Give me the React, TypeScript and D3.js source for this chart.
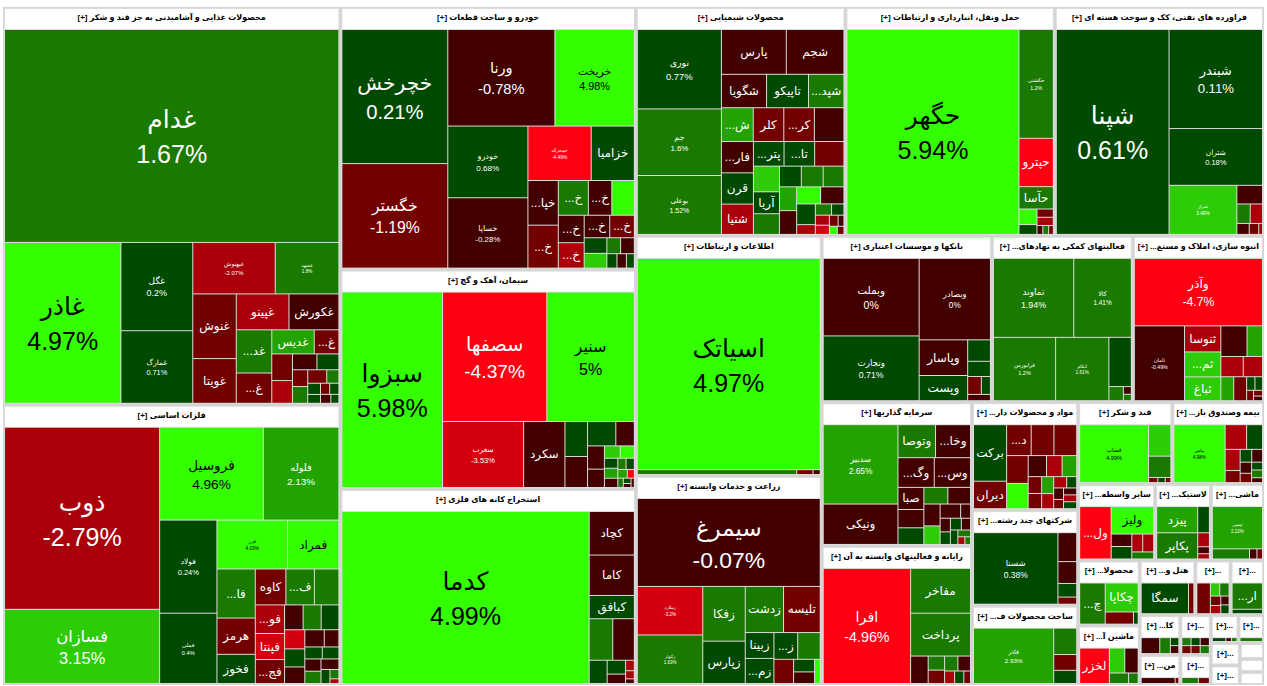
import React from "react";
import * as d3 from "d3";

// [ticker, market value weight, change %]
type Stock = [string, number, number];

const foodStocks: Stock[] = [
  ["غدام", 69.6, 1.67], ["غاذر", 18.3, 4.97], ["غگل", 6.2, 0.2], ["غمارگ", 5.1, 0.71],
  ["غبهنوش", 4.15, -2.07], ["غشهد", 3.2, 1.8], ["غنوش", 2.75, -1.4], ["غویتا", 1.9, -1.2],
  ["غپینو", 1.85, -2.3], ["غکورش", 1.75, -0.5], ["غدشت", 1.5, 1.3], ["غسالم", 1.05, -1.5],
  ["غدیس", 1.0, 2.4], ["غگرجی", 0.58, -1.1], ["غمینو", 0.54, -1.6], ["غچین", 0.46, -2.6],
  ["غبشهر", 0.38, -0.4], ["غشان", 0.34, 0.5], ["غزر", 0.25, -1.3], ["غفارس", 0.25, 1.2],
  ["غپاک", 0.25, -1.8], ["غصینو", 0.16, 1.4], ["غنیلی", 0.14, 0.3], ["غالبر", 0.11, 0.6],
  ["غشصفا", 0.1, -1.2], ["غگلپا", 0.1, 0.2], ["غبهار", 0.09, -0.7], ["غمهرا", 0.07, 0.4],
];

const metalStocks: Stock[] = [
  ["ذوب", 27, -2.79], ["فسازان", 11, 3.15], ["فروسیل", 9.2, 4.96], ["فلوله", 6.7, 2.13],
  ["فولاد", 5.1, 0.24], ["فملی", 3.85, 0.4], ["فزر", 3.3, 4.03], ["فمراد", 2.4, 4.5],
  ["فاسمین", 1.8, 1.5], ["هرمز", 1.33, -1.6], ["فخوز", 1.07, 0.3], ["کاوه", 1.05, -1.3],
  ["فنوال", 0.98, 1.2], ["فباهنر", 0.84, 1.1], ["فولای", 0.8, -2.4], ["فپنتا", 0.73, -3.6],
  ["فجهان", 0.67, -1.1], ["فگستر", 0.44, -0.6], ["فخاس", 0.43, 1.3], ["فسرب", 0.42, 0.5],
  ["فالوم", 0.37, -3.4], ["فسپا", 0.35, 0.2], ["فجر", 0.32, -0.5], ["فروی", 0.32, -0.8],
  ["فتوسا", 0.24, -0.3], ["فافزا", 0.2, 0.6], ["فکمند", 0.19, 0.4], ["فنورد", 0.19, -0.9],
  ["فوکا", 0.19, 1.5], ["فاراک", 0.18, -0.2], ["فسدید", 0.12, 0.7], ["فرآور", 0.08, 1.1],
  ["فغدیر", 0.04, -2.2],
];

const autoStocks: Stock[] = [
  ["خچرخش", 13.6, 0.21], ["خگستر", 10.6, -1.19], ["ورنا", 9.9, -0.78], ["خریخت", 7.35, 4.98],
  ["خودرو", 5.5, 0.68], ["خساپا", 5.4, -0.28], ["خمحرکه", 3.3, -4.49], ["خزامیا", 2.25, 0.5],
  ["خپارس", 1.3, -0.6], ["خنصیر", 1.25, -1.3], ["خمحور", 1.0, 1.4], ["خکاوه", 0.78, -0.5],
  ["خلنت", 0.75, 4.9], ["خکمک", 0.68, -0.4], ["خبهمن", 0.63, -2.5], ["خفنر", 0.55, -0.3],
  ["خشرق", 0.53, -1.5], ["خاور", 0.34, 0.6], ["خرینگ", 0.32, 3.4], ["خمهر", 0.21, 1.2],
  ["خدیزل", 0.21, -0.7], ["خکار", 0.14, 0.3], ["خاذین", 0.13, -0.2], ["ختور", 0.11, 0.5],
];

const cementStocks: Stock[] = [
  ["سبزوا", 19.1, 5.98], ["سصفها", 13.1, -4.37], ["سنیر", 11, 5], ["سغرب", 5.2, -3.53],
  ["سکرد", 2.65, -0.5], ["سخزر", 0.77, 0.6], ["سشرق", 0.68, -0.3], ["سمازن", 0.67, 0.4],
  ["سهگمت", 0.44, -0.7], ["سفار", 0.38, -0.2], ["سخاش", 0.3, -0.6], ["ساروم", 0.19, 3.2],
  ["سفانو", 0.17, 4.6], ["سدور", 0.13, 0.5], ["سبجنو", 0.13, 2.4], ["سکرما", 0.12, -0.4],
  ["سیدکو", 0.09, 1.3], ["سهرمز", 0.09, 0.2], ["ساربیل", 0.08, 2.2], ["سخوز", 0.06, -4.1],
  ["سدشت", 0.05, 1.1], ["سصوفی", 0.04, 0.3], ["سقاین", 0.03, -0.5], ["سیلام", 0.03, -0.9],
];

const miningStocks: Stock[] = [
  ["کدما", 41.7, 4.99], ["کچاد", 1.93, -0.5], ["کاما", 1.79, -0.6], ["کبافق", 1.03, 0.3],
  ["کگل", 0.96, 1.2], ["کگهر", 0.88, -0.4], ["کمنگنز", 0.41, 0.2], ["کروی", 0.25, 0.5],
  ["کنور", 0.17, -0.3], ["کمرجان", 0.09, -2.3], ["کزغال", 0.07, -2.1], ["کپرور", 0.04, -0.5],
];

const chemStocks: Stock[] = [
  ["نوری", 6.2, 0.77], ["جم", 5.2, 1.6], ["بوعلی", 4.6, 1.52], ["پارس", 2.7, -0.3],
  ["شجم", 2.4, -0.5], ["شگویا", 1.4, -0.6], ["تاپیکو", 1.3, 0.4], ["شپدیس", 1.1, 1.2],
  ["شیران", 1.0, 2.8], ["کلر", 0.96, -1.2], ["کرماشا", 0.96, -1.4], ["شخارک", 0.93, -0.7],
  ["فارس", 0.93, -0.4], ["قرن", 0.93, 0.6], ["شتیا", 0.9, -2.3], ["پترول", 0.7, 0.5],
  ["تاپکیش", 0.7, 0.3], ["شسپا", 0.67, -1.3], ["شخزر", 0.62, 3.5], ["آریا", 0.53, 0.4],
  ["شفن", 0.5, 1.1], ["شاراک", 0.42, 0.6], ["شکربن", 0.42, 1.3], ["شفارس", 0.4, 1.2],
  ["شاملا", 0.38, 2.5], ["شصدف", 0.38, -0.4], ["شبریز", 0.38, 4.2], ["شلعاب", 0.37, -0.7],
  ["شنفت", 0.36, 0.3], ["شپاکسا", 0.17, -2.4], ["شپلی", 0.17, 1.4], ["شسینا", 0.13, 0.2],
  ["شدوص", 0.13, -2.6], ["شیراز", 0.12, -3.2], ["شرانل", 0.09, -1.3], ["شوینده", 0.06, -0.3],
  ["شزنگ", 0.06, 4.4], ["شبصیر", 0.05, -1.6],
];

const transportStocks: Stock[] = [
  ["حگهر", 33.9, 5.94], ["حکشتی", 3.6, 1.2], ["حپترو", 1.6, -4.5], ["حآسا", 0.74, 1.1],
  ["حسینا", 0.27, 4.3], ["حتوکا", 0.17, 0.4], ["حفارس", 0.13, -1.4], ["حریل", 0.13, -2.3],
  ["حسیر", 0.05, -0.6], ["حفاری", 0.05, 1.2], ["حبندر", 0.04, -1.1],
];

const oilStocks: Stock[] = [
  ["شپنا", 22.2, 0.61], ["شبندر", 8.9, 0.11], ["شتران", 5.1, 0.18], ["شراز", 3.2, 3.49],
  ["شاوان", 0.46, -0.6], ["شبهرن", 0.25, 1.3], ["شدامین", 0.23, -2.4], ["شپاس", 0.13, -0.5],
  ["شایران", 0.1, -1.4], ["شتوکا", 0.04, -2.2],
];

const itStocks: Stock[] = [
  ["اسیاتک", 39.1, 4.97], ["اخابر", 0.78, 1.2], ["اعتلا", 0.08, -1.3], ["اپرداز", 0.035, -0.4],
];

const agriStocks: Stock[] = [
  ["سیمرغ", 15.2, -0.07], ["زملارد", 3.0, -3.2], ["زکوثر", 3.0, 1.63], ["زفکا", 2.2, 1.3],
  ["زپارس", 1.7, 0.5], ["زدشت", 1.67, 1.4], ["تلیسه", 1.6, -1.3], ["زبینا", 0.7, 0.4],
  ["زمگسا", 0.68, 0.3], ["زکشت", 0.6, 0.6], ["زگلدشت", 0.57, 1.1], ["زشگزا", 0.45, -1.2],
  ["زقیام", 0.25, 0.2], ["زشریف", 0.23, -0.6], ["زماهان", 0.13, 4.1],
];

const bankStocks: Stock[] = [
  ["وبملت", 7.3, 0], ["وتجارت", 6.1, 0.71], ["وبصادر", 5.7, 0], ["وپاسار", 1.7, -0.5],
  ["وپست", 1.2, 0.4], ["وسینا", 0.48, 0.3], ["وخاور", 0.34, 0.5], ["وکار", 0.24, -1.2],
  ["وپارس", 0.16, 0.2], ["ونوین", 0.14, -0.3],
];

const finAuxStocks: Stock[] = [
  ["تماوند", 6.2, 1.94], ["کالا", 4.45, 1.41], ["فرابورس", 3.85, 1.2], ["اتکام", 3.3, 1.61],
  ["سپرده", 1.08, 0.6], ["آتیه", 0.2, 1.3], ["کارا", 0.06, -0.4], ["ثبات", 0.05, 1.1],
];

const estateStocks: Stock[] = [
  ["وآذر", 8.4, -4.7], ["ثامان", 3.65, -0.49], ["ثنوسا", 0.92, -2.4], ["ثمسکن", 0.88, 3.3],
  ["ثباغ", 0.84, 3.5], ["ثشاهد", 0.78, -0.6], ["ثاخت", 0.46, 2.4], ["ثپردیس", 0.44, -2.3],
  ["ثعمرا", 0.38, -2.1], ["ثفارس", 0.3, 2.2], ["ثشرق", 0.3, -1.3], ["ثاصفا", 0.11, 0.4],
  ["ثتران", 0.1, 0.2], ["ثالوند", 0.07, -1.4], ["ثنور", 0.05, -1.1], ["ثرود", 0.04, -0.5],
];

const investStocks: Stock[] = [
  ["سدبیر", 5.5, 2.65], ["ونیکی", 2.8, -0.36], ["وتوصا", 1.15, 1.2], ["وخارزم", 1.07, -0.5],
  ["وگستر", 1.0, -0.4], ["وسکاب", 1.0, -0.3], ["صبا", 0.53, -0.6], ["واتی", 0.44, -0.7],
  ["وبوعلی", 0.4, 0.3], ["ومعادن", 0.37, 1.3], ["وسپه", 0.35, -0.2], ["وصنا", 0.33, -0.5],
  ["وبانک", 0.28, 3.1], ["وکغدیر", 0.27, -0.4], ["وسبحان", 0.13, -0.8], ["وتوکا", 0.13, -0.2],
  ["وغدیر", 0.12, 0.4], ["وامید", 0.12, 0.6], ["وساپا", 0.1, -0.9], ["وپخش", 0.1, 0.3],
  ["ونفت", 0.08, 1.1], ["وسمان", 0.05, -2.5], ["وملت", 0.04, 1.2],
];

const computerStocks: Stock[] = [
  ["افرا", 9.6, -4.96], ["مفاخر", 2.56, 1.3], ["پرداخت", 2.45, 1.2], ["رتاپ", 0.46, -0.4],
  ["سپ", 0.22, 1.1], ["رانفور", 0.21, -1.2], ["مداران", 0.19, 1.4], ["ماهان", 0.18, -0.6],
  ["سیستم", 0.12, -2.3], ["تاپ", 0.11, 0.3], ["فن افزار", 0.08, -1.1],
];

const drugStocks: Stock[] = [
  ["برکت", 1.65, 0.4], ["دیران", 0.8, -1.3], ["دفارا", 0.67, -1.2], ["دسبحا", 0.62, -1.4],
  ["دجابر", 0.62, -1.1], ["دکیمی", 0.53, -1.5], ["ددانا", 0.48, 4.6], ["دالبر", 0.34, -0.4],
  ["دتماد", 0.29, -2.2], ["دزهراوی", 0.27, 2.4], ["دلر", 0.2, -1.3], ["دکوثر", 0.18, -1.1],
  ["دسینا", 0.18, 2.3], ["دشیمی", 0.16, -2.4], ["داسوه", 0.13, -2.2], ["دتولید", 0.1, 0.5],
  ["دعبید", 0.1, -0.4], ["دپارس", 0.08, -1.2], ["دابور", 0.08, -0.6], ["دکپسول", 0.08, -2.1],
  ["دفرا", 0.08, 0.2],
];

const sugarStocks: Stock[] = [
  ["قشاب", 4.2, 4.99], ["قثابت", 0.74, 3.3], ["قزوین", 0.5, 1.2], ["قشکر", 0.05, -1.2],
  ["قلرست", 0.04, 0.3], ["قنیشا", 0.03, -1.5],
];

const insuranceStocks: Stock[] = [
  ["بپاس", 2.8, 4.98], ["بنو", 0.5, -2.3], ["البرز", 0.37, 0.5], ["بپارس", 0.3, -2.4],
  ["بکوثر", 0.17, -1.2], ["وتعاون", 0.14, 0.3], ["ما", 0.13, -0.3], ["کوثر", 0.12, -0.6],
  ["ودانا", 0.1, -1.4], ["آسماء", 0.08, 0.4], ["ملت", 0.08, 1.2], ["بسما", 0.05, -0.2],
];

const multiStocks: Stock[] = [
  ["شستا", 5.9, 0.38], ["وصنعت", 0.53, -0.4], ["وپترو", 0.4, -0.7], ["ومدیر", 0.25, 0.3],
  ["وتوشه", 0.13, -1.3],
];

const metalProductStocks: Stock[] = [
  ["فاذر", 4.4, 2.93], ["فافق", 0.6, 1.2], ["فنر", 0.36, -1.3], ["فجوش", 0.3, 0.4],
];

const otherFinStocks: Stock[] = [
  ["ولملت", 1.6, -4.5], ["ولیز", 1.13, 4.8], ["وکادو", 0.25, -0.5], ["ولپارس", 0.25, 0.3],
  ["ولساپا", 0.19, -2.4], ["ولغدر", 0.19, -2.2], ["ولشرق", 0.15, 1.2],
];

const rubberStocks: Stock[] = [
  ["پیزد", 1.05, 2.5], ["پکاپر", 1.05, 1.3], ["پاکشو", 0.3, 0.4], ["پسهند", 0.16, -2.5],
  ["پدرخش", 0.08, -0.3], ["پلاست", 0.06, -2.1],
];

const machineStocks: Stock[] = [
  ["تپمپی", 2.25, 2.22], ["تکمبا", 0.4, 1.1], ["تجهیز", 0.08, -0.5], ["تشتاد", 0.06, -1.2],
];

const paperStocks: Stock[] = [
  ["چکاوه", 1.1, 1.5], ["چکاپا", 1.0, 3.2], ["چفیبر", 0.36, -1.4], ["چکارن", 0.06, 0.2],
];

const electricStocks: Stock[] = [
  ["لخزر", 1.04, -4.6], ["بشهاب", 0.38, 3.3], ["بموتو", 0.33, -0.4], ["بالبر", 0.2, 1.5],
  ["بترانس", 0.1, 1.2],
];

const hotelStocks: Stock[] = [["سمگا", 1.5, 0.5], ["گکیش", 0.17, -1.2]];

const otherMiningStocks: Stock[] = [
  ["کحافظ", 0.34, -1.3], ["کطبس", 0.1, 3.1], ["کصدف", 0.1, 1.4], ["کمینا", 0.08, -1.5],
  ["کباریت", 0.07, -2.5], ["کفرا", 0.06, -0.3], ["کیمیا", 0.06, 0.2],
];

const commDeviceStocks: Stock[] = [["ارتباط", 0.6, 1.4], ["تکنار", 0.1, 0.3]];
const tileStocks: Stock[] = [
  ["کسرام", 0.35, -0.3], ["کساوه", 0.2, 1.5], ["کسعدی", 0.08, 0.4], ["کتابا", 0.08, -0.6],
];
const textileStocks: Stock[] = [["نبروج", 0.45, -0.5], ["نطرین", 0.05, -1.2]];
const powerStocks: Stock[] = [
  ["بمپنا", 0.07, 1.2], ["بفجر", 0.07, -1.3], ["بکهنوج", 0.07, 0.4], ["بزاگرس", 0.07, -1.1],
  ["بجهرم", 0.07, -0.5], ["بنیرو", 0.07, 1.4],
];
const waterStocks: Stock[] = [["حخزر", 0.15, 1.3], ["حسیرا", 0.1, -1.1]];
const printStocks: Stock[] = [["چاپ", 0.12, 0.4], ["چافست", 0.05, -0.5], ["چنوپا", 0.05, 1.1]];
const retailStocks: Stock[] = [["رافزا", 0.05, 1.3]];
const coalStocks: Stock[] = [["کپارس", 0.08, 1.2], ["کطبسی", 0.05, -4.2]];
const contractStocks: Stock[] = [["بنیان", 0.1, -0.4]];
const leatherStocks: Stock[] = [["کفش", 0.05, -0.2]];
const oilGasStocks: Stock[] = [["شاخص", 0.05, 0.3]];
const cultureStocks: Stock[] = [["ورزشی", 0.05, 0.2]];

const sectorNames = [
  "محصولات غذایی و آشامیدنی به جز قند و شکر", "فلزات اساسی", "خودرو و ساخت قطعات",
  "سیمان، آهک و گچ", "استخراج کانه های فلزی", "محصولات شیمیایی",
  "حمل ونقل، انبارداری و ارتباطات", "فراورده های نفتی، کک و سوخت هسته ای",
  "اطلاعات و ارتباطات", "زراعت و خدمات وابسته", "بانکها و موسسات اعتباری",
  "فعالیتهای کمکی به نهادهای مالی واسط", "انبوه سازی، املاک و مستغلات", "سرمایه گذاریها",
  "رایانه و فعالیتهای وابسته به آن", "مواد و محصولات دارویی", "قند و شکر",
  "بیمه وصندوق بازنشستگی به جزتامین اجتماعی", "شرکتهای چند رشته ای صنعتی",
  "ساخت محصولات فلزی", "سایر واسطه گریهای مالی", "لاستیک و پلاستیک", "ماشین آلات و تجهیزات",
  "محصولات کاغذی", "ماشین آلات و دستگاههای برقی", "هتل و رستوران", "سایر معادن",
  "ساخت دستگاهها و وسایل ارتباطی", "کاشی و سرامیک", "منسوجات", "عرضه برق، گاز، بخاروآب گرم",
  "حمل و نقل آبی", "انتشار، چاپ و تکثیر", "خرده فروشی", "استخراج ذغال سنگ",
  "پیمانکاری صنعتی", "محصولات چرمی", "استخراج نفت گاز", "فعالیتهای فرهنگی و ورزشی",
];

// sector market value (thousand px of map area)
const sectorTotals = [
  132.3, 93.2, 76.5, 63.9, 57.1, 47.3, 47.25, 47.2, 44.0, 38.3, 27.9, 23.1, 21.5, 21.3, 20.6,
  11.3, 7.6, 7.4, 10.0, 8.3, 5.8, 4.2, 4.0, 3.95, 3.6, 3.0, 1.9, 1.8, 1.6, 1.2, 1.2, 0.9,
  0.76, 0.7, 0.64, 0.56, 0.38, 0.31, 0.31,
];

const sectorStocks: Stock[][] = [
  foodStocks, metalStocks, autoStocks, cementStocks, miningStocks, chemStocks,
  transportStocks, oilStocks, itStocks, agriStocks, bankStocks, finAuxStocks, estateStocks,
  investStocks, computerStocks, drugStocks, sugarStocks, insuranceStocks, multiStocks,
  metalProductStocks, otherFinStocks, rubberStocks, machineStocks, paperStocks, electricStocks,
  hotelStocks, otherMiningStocks, commDeviceStocks, tileStocks, textileStocks, powerStocks,
  waterStocks, printStocks, retailStocks, coalStocks, contractStocks, leatherStocks,
  oilGasStocks, cultureStocks,
];

const W = 1267;
const H = 686;
const MAP_X = 4;
const MAP_Y = 8;
const MAP_W = 1259;
const MAP_H = 676;
const FONT = "'Liberation Sans', 'DejaVu Sans', sans-serif";

const color = d3
  .scaleThreshold<number, string>()
  .domain([-4, -3, -2, -1, 1e-9, 1, 2, 3, 4])
  .range(["#ff0013", "#d5000f", "#aa0009", "#730000", "#420000", "#004a00", "#1a7a00", "#23a300", "#2dcc07", "#33ff00"]);

let ctx: CanvasRenderingContext2D | null = null;
function measure(s: string, font: string) {
  if (!ctx) ctx = document.createElement("canvas").getContext("2d");
  ctx!.font = font;
  return ctx!.measureText(s).width;
}

// header: "[+] name", cut from the end of the name
function fitHead(name: string, font: string, maxW: number) {
  if (measure("[+] " + name, font) <= maxW) return "[+] " + name;
  for (let k = name.length - 1; k >= 1; k--) {
    const s = "[+] ..." + name.slice(0, k);
    if (measure(s, font) <= maxW) return s;
  }
  return "[+]...";
}

// tile name, shown right-to-left so the dots land on the left
function fitName(name: string, font: string, maxW: number) {
  if (measure(name, font) <= maxW) return name;
  for (let k = name.length - 1; k >= 1; k--) {
    const s = name.slice(0, k) + "...";
    if (measure(s, font) <= maxW) return s;
  }
  return null;
}

interface Node {
  name: string;
  value?: number;
  pct?: number;
  children?: Node[];
}

function buildData(): Node {
  return {
    name: "root",
    children: sectorNames.map((name, i) => {
      const stocks = sectorStocks[i];
      const sum = d3.sum(stocks, (s) => s[1]);
      return {
        name,
        children: stocks.map(([n, w, p]) => ({ name: n, value: (w / sum) * sectorTotals[i], pct: p })),
      };
    }),
  };
}

export default function App() {
  const root = d3
    .hierarchy<Node>(buildData())
    .sum((d) => d.value || 0)
    .sort((a, b) => (b.value || 0) - (a.value || 0));

  d3
    .treemap<Node>()
    .tile(d3.treemapSquarify.ratio(1))
    .size([MAP_W, MAP_H])
    .paddingInner((n) => (n.depth === 0 ? 2 : 1))
    .paddingTop((n) => (n.depth === 1 ? 22 : 0))
    .paddingLeft((n) => (n.depth === 1 ? 1 : 0))
    .paddingRight((n) => (n.depth === 1 ? 1 : 0))
    .paddingBottom((n) => (n.depth === 1 ? 1 : 0))(root);

  const sectors = (root.children || []) as d3.HierarchyRectangularNode<Node>[];
  const headFont = `bold 8px ${FONT}`;
  const nameFont = `12px ${FONT}`;

  return (
    <svg width={W} height={H} style={{ position: "absolute", left: 0, top: 0, background: "#fff" }}>
      <rect x={MAP_X - 1} y={MAP_Y - 1} width={MAP_W + 2} height={MAP_H + 2} fill="#d4d4d4" />
      <g transform={`translate(${MAP_X},${MAP_Y})`}>
        {sectors.map((s, i) => {
          const w = s.x1 - s.x0;
          const h = s.y1 - s.y0;
          const leaves = (s.children || []) as d3.HierarchyRectangularNode<Node>[];
          const biggest = leaves[0];
          return (
            <g key={i}>
              <clipPath id={`c${i}`}>
                <rect x={s.x0} y={s.y0} width={w} height={h} />
              </clipPath>
              <rect x={s.x0} y={s.y0} width={w} height={h} fill="#dcdcdc" />
              <rect x={s.x0 + 1} y={s.y0 + 1} width={Math.max(0, w - 2)} height={Math.max(0, Math.min(20, h - 2))} fill="#fff" />
              {h >= 16 && (
                <text
                  x={(s.x0 + s.x1) / 2}
                  y={s.y0 + 12}
                  textAnchor="middle"
                  fontFamily={FONT}
                  fontWeight="bold"
                  fontSize={8}
                  fill="#000"
                  clipPath={`url(#c${i})`}
                >
                  {fitHead(s.data.name, headFont, w - 6)}
                </text>
              )}
              {leaves.map((l, j) => {
                const lw = l.x1 - l.x0;
                const lh = l.y1 - l.y0;
                if (lw <= 0 || lh <= 0) return null;
                const pct = l.data.pct || 0;
                const cx = (l.x0 + l.x1) / 2;
                const cy = (l.y0 + l.y1) / 2;
                const ink = pct >= 4 ? "#000" : "#fff";
                const area = lw * lh;
                let label: React.ReactNode = null;
                if (area >= 3000 || (l === biggest && area >= 2000)) {
                  const fs = Math.min(25, Math.max(4.5, area * 0.00145));
                  label = (
                    <g fill={ink} fontFamily={FONT} fontSize={fs} textAnchor="middle">
                      <text x={cx} y={cy - 0.3 * fs}>{l.data.name}</text>
                      <text x={cx} y={cy + 1.1 * fs}>{`${pct}%`}</text>
                    </g>
                  );
                } else if (lw >= 22 && lh >= 18) {
                  const t = fitName(l.data.name, nameFont, lw - 4);
                  if (t)
                    label = (
                      <text
                        x={cx}
                        y={cy + 4}
                        fill={ink}
                        fontFamily={FONT}
                        fontSize={12}
                        textAnchor="middle"
                        style={{ direction: "rtl", unicodeBidi: "embed" }}
                      >
                        {t}
                      </text>
                    );
                }
                return (
                  <g key={j}>
                    <rect x={l.x0} y={l.y0} width={lw} height={lh} fill={color(pct)} />
                    {label}
                  </g>
                );
              })}
            </g>
          );
        })}
      </g>
    </svg>
  );
}
